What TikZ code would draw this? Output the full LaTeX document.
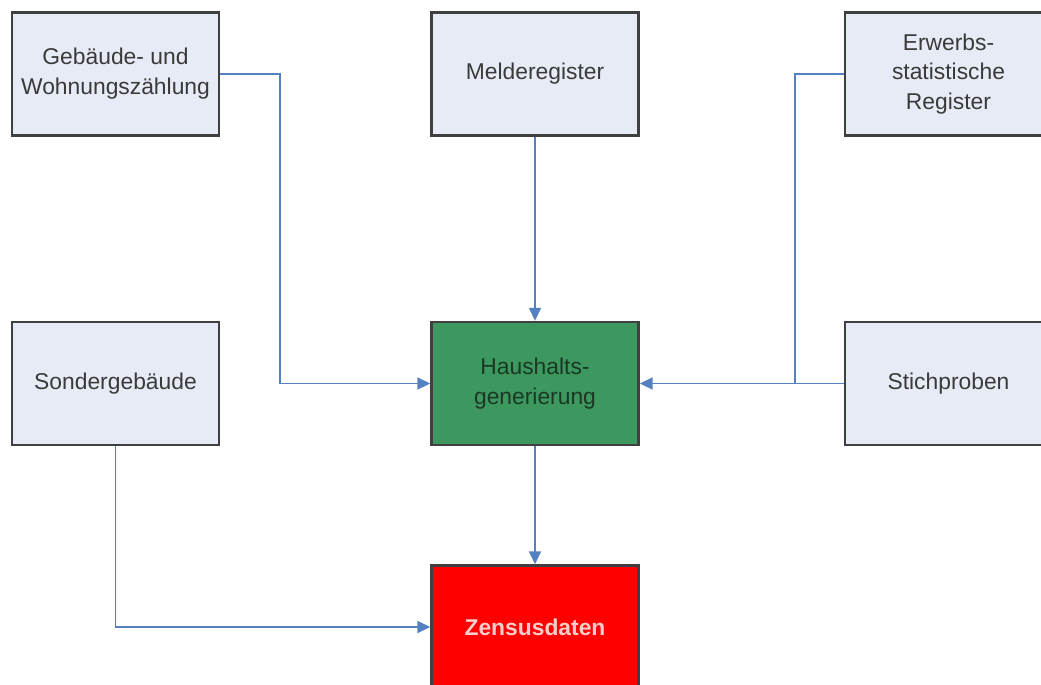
\documentclass[tikz,border=0pt]{standalone}
\usepackage{fontspec}
\setmainfont{Liberation Sans}
\usepackage{xcolor}
\definecolor{BoxFill}{RGB}{230,235,245}
\definecolor{BoxLine}{RGB}{64,64,64}
\definecolor{BoxText}{RGB}{58,58,58}
\definecolor{HausFill}{RGB}{60,152,95}
\definecolor{HausText}{RGB}{26,56,36}
\definecolor{ZensFill}{RGB}{255,0,0}
\definecolor{ZensText}{RGB}{250,205,205}
\definecolor{EdgeCol}{RGB}{84,130,192}
\usepackage{tikz}
\usetikzlibrary{arrows.meta}
\tikzstyle{Box}=[rectangle,draw=BoxLine,line width=1.4pt,fill=BoxFill,
text=BoxText,minimum width=4.14cm,minimum height=2.46cm,align=center,
inner sep=2pt,font=\fontsize{13}{17}\selectfont]
\tikzstyle{Edge}=[draw=EdgeCol,line width=1pt]
\tikzstyle{Arrow}=[Edge,-{Triangle[length=0.26cm,width=0.24cm]}]

\begin{document}
\begin{tikzpicture}[x=0.02cm,y=-0.02cm]
    \useasboundingbox (0,0) rectangle (1041,684);
    \node[Box](geb)at(115.5,74){Gebäude- und\\Wohnungszählung};
    \node[Box](melde)at(535,74){Melderegister};
    \node[Box](erwerb)at(948.5,74){Erwerbs-\\statistische\\Register};
    \node[Box](sonder)at(115.5,383.5){Sondergebäude};
    \node[Box](stich)at(948.5,383.5){Stichproben};
    \node[Box,fill=HausFill,text=HausText](haus)at(535,383.5)
        {Haushalts-\\generierung};
    \node[Box,fill=ZensFill,text=ZensText,font=\fontsize{13}{17}\selectfont\bfseries]
        (zens)at(535,627){Zensusdaten};
    \coordinate(k1)at(280,0);
    \coordinate(k2)at(795,0);
    \draw[Arrow](geb.east)--(geb.east-|k1)|-(haus.west);
    \draw[Arrow](melde.south)--(haus.north);
    \draw[Edge](erwerb.west)--(erwerb.west-|k2)--(k2|-stich.west);
    \draw[Arrow](stich.west)--(haus.east);
    \draw[Arrow](haus.south)--(zens.north);
    \draw[Arrow](sonder.south)|-(zens.west);
\end{tikzpicture}
\end{document}
